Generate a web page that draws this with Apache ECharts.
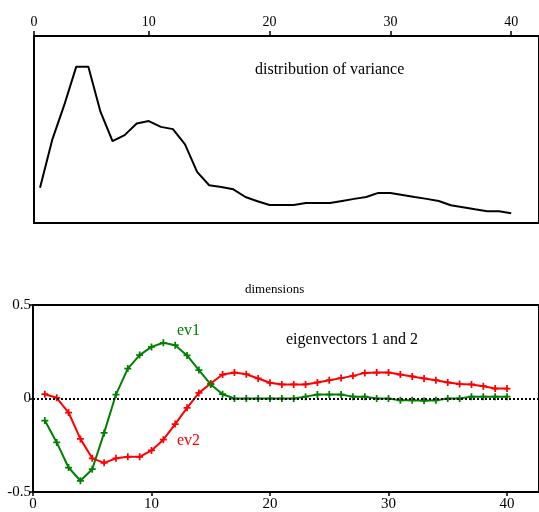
<!DOCTYPE html>
<html><head><meta charset="utf-8">
<script src="https://cdn.jsdelivr.net/npm/echarts@6/dist/echarts.min.js"></script>
<style>html,body{margin:0;padding:0;background:#fff}#c{width:539px;height:512px}</style>
</head><body><div id="c"></div>
<script>
var dims = [];
for (var i = 1; i <= 40; i++) dims.push(i);
var variance = [18.9,44.3,63,83.6,83.6,59.5,43.8,47,53.2,54.5,51.4,50.2,42,27.3,20.2,19.3,18,13.9,11.6,9.6,9.6,9.6,10.7,10.7,10.7,11.8,12.9,13.9,16.1,16.1,15,13.9,12.9,11.8,9.5,8.4,7.3,6.3,6.3,5.2];
var ev1 = [-0.118,-0.235,-0.369,-0.44,-0.378,-0.184,0.021,0.16,0.232,0.276,0.298,0.285,0.23,0.152,0.075,0.023,0,0,0,0,0,0,0.01,0.021,0.021,0.021,0.01,0.01,0,0,-0.01,-0.01,-0.012,-0.01,0,0,0.01,0.01,0.01,0.01];
var ev2 = [0.023,0.004,-0.075,-0.216,-0.32,-0.344,-0.32,-0.312,-0.312,-0.278,-0.22,-0.137,-0.05,0.03,0.08,0.128,0.139,0.13,0.107,0.084,0.075,0.075,0.075,0.086,0.098,0.109,0.121,0.137,0.139,0.139,0.128,0.118,0.107,0.098,0.086,0.077,0.075,0.066,0.053,0.053];
var xTicks = [0, 10, 20, 30, 40];
var yTicks = [-0.5, 0, 0.5];

function pairs(ys){ return dims.map(function(d,k){return [d, ys[k]];}); }
var FONT = 'Liberation Serif';
var plus = 'path://M-1,-4h2v3h3v2h-3v3h-2v-3h-3v-2h3z';

var chart = echarts.init(document.getElementById('c'));
chart.setOption({
  animation: false,
  textStyle: {fontFamily: FONT},
  grid: [
    {left: 34, top: 36, right: -4, height: 187, show: true, borderColor: '#000', borderWidth: 2},
    {left: 33, top: 305, right: -4, height: 187, show: true, borderColor: '#000', borderWidth: 2}
  ],
  xAxis: [
    {gridIndex: 0, type: 'value', position: 'top', min: 0.5, max: 42.3,
     axisLine: {onZero: false, lineStyle: {color: '#000', width: 2}},
     axisTick: {customValues: [0.5,10,20,30,40], length: 5, lineStyle: {color: '#000', width: 1.5}},
     axisLabel: {customValues: [0.5,10,20,30,40], color: '#000', fontSize: 14, fontFamily: FONT, margin: 7,
       formatter: function(v){ return v === 0.5 ? String(xTicks[0]) : String(v); }},
     splitLine: {show: false}},
    {gridIndex: 1, type: 'value', position: 'bottom', min: 0, max: 42.7, interval: 10,
     axisLine: {onZero: false, lineStyle: {color: '#000', width: 2}},
     axisTick: {customValues: xTicks, length: 4, lineStyle: {color: '#000', width: 1.5}},
     axisLabel: {customValues: xTicks, color: '#000', fontSize: 15, fontFamily: FONT, margin: 5},
     splitLine: {show: false}}
  ],
  yAxis: [
    {gridIndex: 0, type: 'value', min: 0, max: 100, show: false},
    {gridIndex: 1, type: 'value', min: -0.5, max: 0.5, interval: 0.5,
     axisLine: {show: true, onZero: false, lineStyle: {color: '#000', width: 2}},
     axisTick: {show: true, length: 4, lineStyle: {color: '#000', width: 1.5}},
     axisLabel: {customValues: yTicks, color: '#000', fontSize: 15, fontFamily: FONT, margin: 2,
       formatter: function(v){ return String(v); }},
     splitLine: {show: false}}
  ],
  series: [
    {type: 'line', xAxisIndex: 0, yAxisIndex: 0, data: pairs(variance), showSymbol: false, symbol: 'none',
     lineStyle: {color: '#000', width: 2}},
    {type: 'line', xAxisIndex: 1, yAxisIndex: 1, data: pairs(ev2), symbol: plus, symbolSize: 7,
     itemStyle: {color: '#ff0000'}, lineStyle: {color: '#ff0000', width: 2},
     markLine: {silent: true, symbol: 'none', label: {show: false},
       lineStyle: {color: '#000', type: [2, 2], width: 2}, data: [{yAxis: 0}]}},
    {type: 'line', xAxisIndex: 1, yAxisIndex: 1, data: pairs(ev1), symbol: plus, symbolSize: 7,
     itemStyle: {color: '#008000'}, lineStyle: {color: '#008000', width: 2}}
  ],
  graphic: [
    {type: 'text', left: 255, top: 62, style: {text: 'distribution of variance', font: '16px "Liberation Serif"', fill: '#000'}},
    {type: 'text', left: 245, top: 283, style: {text: 'dimensions', font: '13px "Liberation Serif"', fill: '#000'}},
    {type: 'text', left: 286, top: 332, style: {text: 'eigenvectors 1 and 2', font: '16px "Liberation Serif"', fill: '#000'}},
    {type: 'text', left: 177, top: 323, style: {text: 'ev1', font: '16px "Liberation Serif"', fill: '#008000'}},
    {type: 'text', left: 177, top: 433, style: {text: 'ev2', font: '16px "Liberation Serif"', fill: '#ff0000'}}
  ]
});
</script></body></html>
